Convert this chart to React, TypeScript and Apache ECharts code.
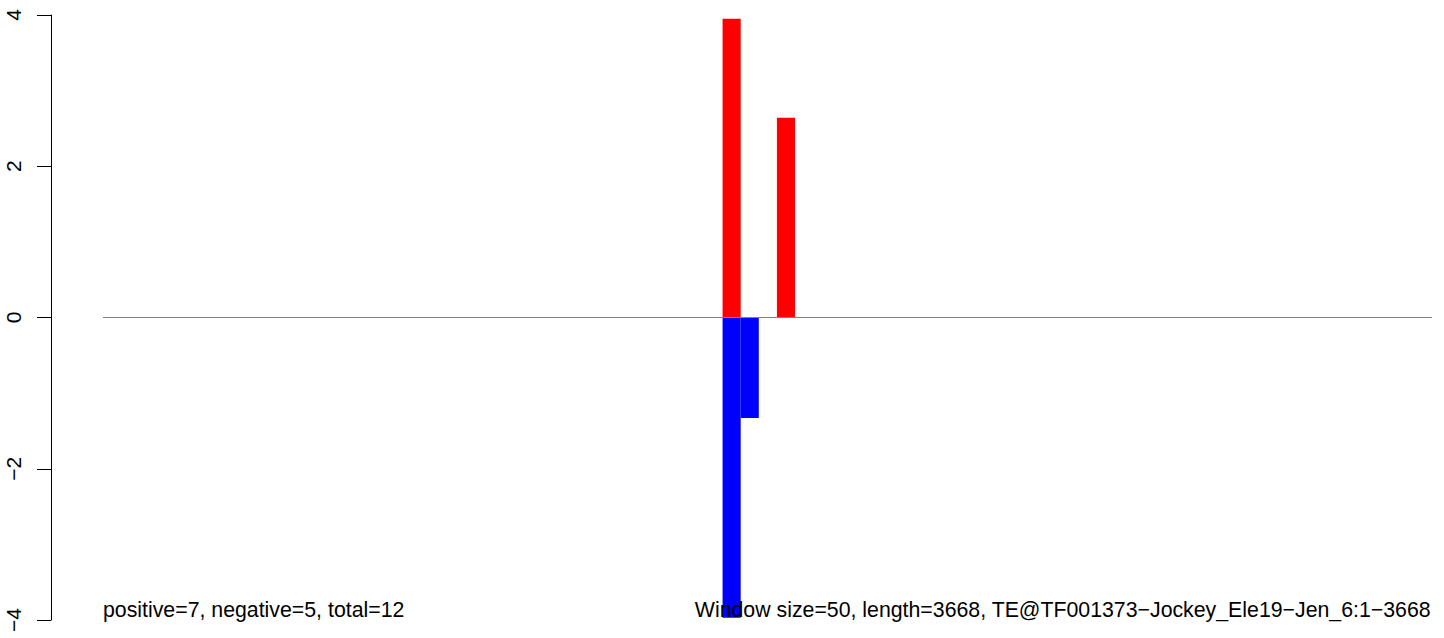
import React, { useEffect, useRef } from "react";
import * as echarts from "echarts";

const windowSize = 50;
const seqLength = 3668;
const posStarts = [1710, 1860];
const posValues = [3.95, 2.64];
const negStarts = [1710, 1760];
const negValues = [-3.97, -1.33];
const yMin = -4;
const yMax = 4;
const yStep = 2;
const leftNote = "positive=7, negative=5, total=12";
const rightNote = "Window size=50, length=3668, TE@TF001373\u2212Jockey_Ele19\u2212Jen_6:1\u22123668";

const FONT = "'Liberation Sans', Arial, Helvetica, sans-serif";

function barSeries(name: string, starts: number[], values: number[], color: string) {
  return {
    name,
    type: "custom",
    silent: true,
    z: 2,
    renderItem: (params: any, api: any) => {
      const s = api.value(0);
      const v = api.value(1);
      const p0 = api.coord([s, 0]);
      const p1 = api.coord([s + windowSize, v]);
      return {
        type: "rect",
        shape: {
          x: p0[0],
          y: Math.min(p0[1], p1[1]),
          width: p1[0] - p0[0],
          height: Math.abs(p1[1] - p0[1]),
        },
        style: { fill: color },
      };
    },
    data: starts.map((s, i) => [s, values[i]]),
  };
}

export default function App() {
  const ref = useRef<HTMLDivElement>(null);
  useEffect(() => {
    if (!ref.current) return;
    const chart = echarts.init(ref.current, undefined, { renderer: "svg" });
    chart.setOption({
      animation: false,
      backgroundColor: "#ffffff",
      grid: { left: 103, right: 12, top: 15, bottom: 18, containLabel: false },
      xAxis: { type: "value", min: 0, max: seqLength, show: false },
      yAxis: {
        type: "value",
        min: yMin,
        max: yMax,
        interval: yStep,
        offset: 52,
        axisLine: { show: true, onZero: false, lineStyle: { color: "#000", width: 1 } },
        axisTick: { show: true, length: 14, lineStyle: { color: "#000", width: 1 } },
        splitLine: { show: false },
        axisLabel: {
          rotate: 90,
          margin: 27,
          fontSize: 21,
          fontFamily: FONT,
          color: "#000",
          formatter: (v: number) => String(v).replace("-", "\u2212"),
        },
      },
      series: [
        barSeries("positive", posStarts, posValues, "#ff0000"),
        barSeries("negative", negStarts, negValues, "#0000ff"),
        {
          name: "zero",
          type: "line",
          silent: true,
          z: 5,
          symbol: "none",
          lineStyle: { color: "#808080", width: 1.2 },
          data: [
            [0, 0],
            [seqLength, 0],
          ],
        },
      ],
      graphic: [
        {
          type: "text",
          left: 103,
          top: 599,
          z: 10,
          style: { text: leftNote, font: `21.3px ${FONT}`, fill: "#000" },
        },
        {
          type: "text",
          right: 13,
          top: 599,
          z: 10,
          style: { text: rightNote, font: `21.3px ${FONT}`, fill: "#000" },
        },
      ],
    });
    return () => chart.dispose();
  }, []);
  return (
    <div
      ref={ref}
      style={{ position: "fixed", left: 0, top: 0, width: 1444, height: 638, background: "#fff" }}
    />
  );
}
